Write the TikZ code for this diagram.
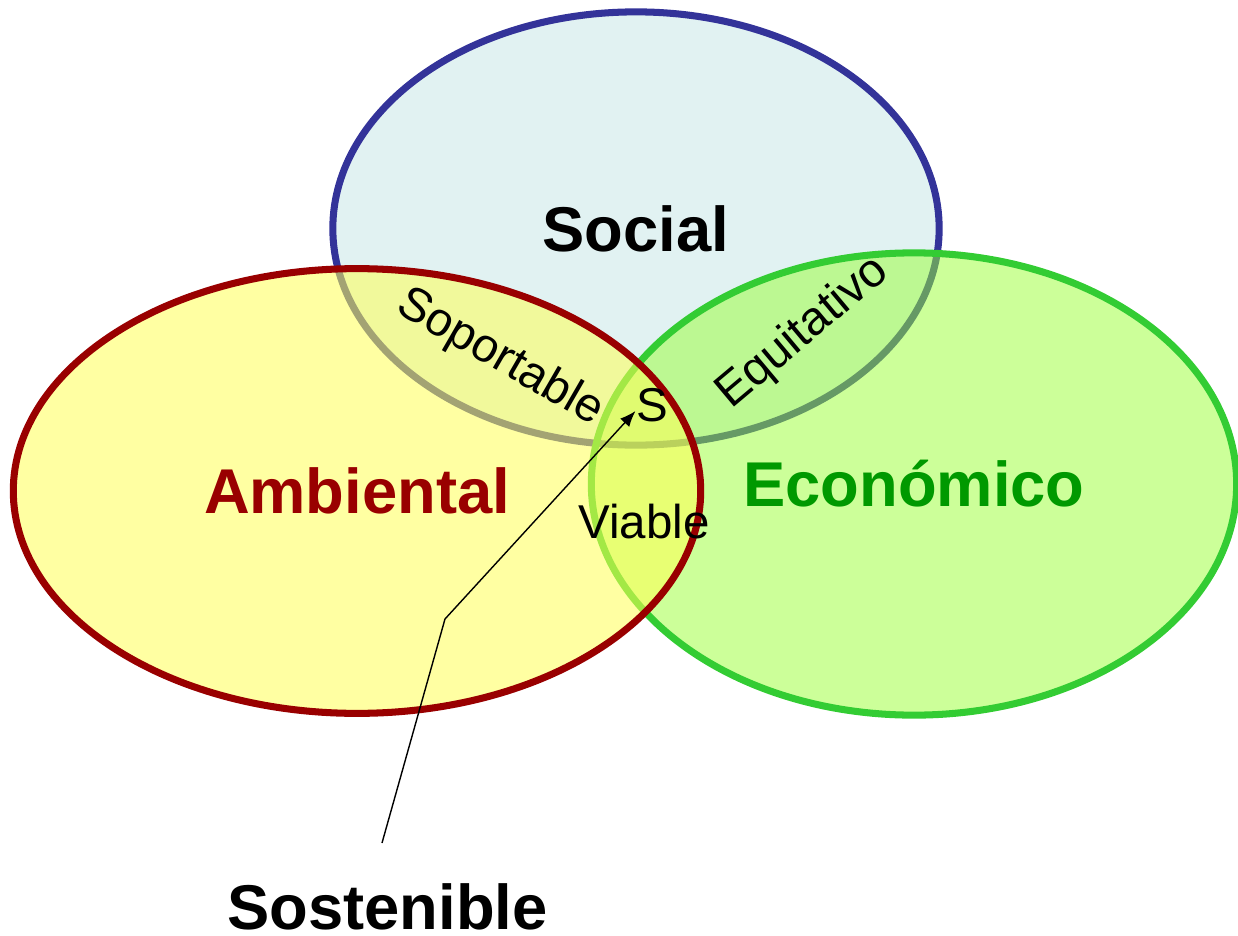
\documentclass[tikz,border=0pt]{standalone}
\usepackage{fontspec}
\setmainfont{Liberation Sans}
\usepackage{xcolor}
\usetikzlibrary{shapes.geometric,arrows.meta,positioning}
\definecolor{socialline}{HTML}{333399}
\definecolor{socialfill}{HTML}{E1F2F2}
\definecolor{ambline}{HTML}{990000}
\definecolor{ambfill}{HTML}{FFFF55}
\definecolor{ecoline}{HTML}{33CC33}
\definecolor{ecofill}{HTML}{99FF33}
\definecolor{ecotext}{HTML}{009900}

\begin{document}
\begin{tikzpicture}[x=0.01cm,y=-0.01cm,
  pillar/.style={draw,ellipse,line width=2pt,inner sep=0pt,text height=13pt,text depth=0pt,
    text opacity=1,font=\fontsize{18}{22}\selectfont\bfseries},
  tag/.style={inner sep=0pt,font=\fontsize{13.5}{16}\selectfont},
  pointer/.style={-{Latex[length=4.5pt,width=3.5pt]},line width=0.4pt}]
\useasboundingbox (0,0) rectangle (1238,936);
% the three pillars
\node[pillar,draw=socialline,fill=socialfill,minimum width=6.06cm,minimum height=4.33cm] (social) at (636,228.5) {Social};
\node[pillar,draw=ecoline,fill=ecofill,fill opacity=0.5,text=ecotext,minimum width=6.45cm,minimum height=4.62cm] (eco) at (914,484) {Económico};
\node[pillar,draw=ambline,fill=ambfill,fill opacity=0.55,text=ambline,minimum width=6.87cm,minimum height=4.445cm] (amb) at (357,491) {Ambiental};

% overlaps
\node[tag,rotate=-30] (soport) at (500,358) {Soportable};
\node[tag,rotate=40] (equit) at (803,333) {Equitativo};
\node[tag] (viable) at (644,522) {Viable};
\node[tag] (s) at (652,405) {S};

% pointer to the centre
\node[anchor=base,font=\fontsize{18}{22}\selectfont\bfseries] (sost) at (387.5,929) {Sostenible};
\coordinate (foot) at (382,843);
\coordinate (knee) at (445,619);
\draw[pointer] (foot) -- (knee) -- (s.200);
\end{tikzpicture}
\end{document}
